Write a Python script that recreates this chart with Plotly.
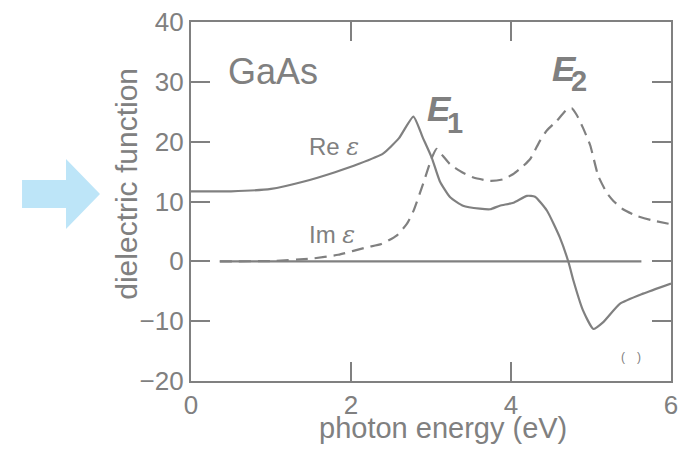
import plotly.graph_objects as go

# ---- data ----
re_x = [0.0, 0.5, 1.0, 1.4, 1.8, 2.1, 2.4, 2.6, 2.78, 2.9, 3.01, 3.11, 3.24, 3.4, 3.61, 3.74,
        3.86, 4.03, 4.2, 4.3, 4.45, 4.61, 4.72, 4.78, 4.9, 5.03, 5.15, 5.36, 5.65, 6.0]
re_eps = [11.7, 11.7, 12.1, 13.3, 14.9, 16.3, 18.0, 20.6, 24.2, 20.6, 17.3, 13.4, 10.7, 9.3, 8.8, 8.7,
          9.3, 9.8, 10.95, 10.8, 8.45, 4.0, -0.2, -3.2, -8.2, -11.3, -10.2, -7.1, -5.4, -3.7]

im_x = [0.36, 1.0, 1.5, 1.84, 2.2, 2.38, 2.57, 2.7, 2.78, 2.9, 3.01, 3.07, 3.15, 3.24, 3.4, 3.53,
        3.74, 3.9, 4.03, 4.15, 4.24, 4.36, 4.45, 4.57, 4.7, 4.76, 4.82, 4.9, 4.99, 5.09, 5.2,
        5.28, 5.4, 5.57, 5.75, 6.0]
im_eps = [0.0, 0.05, 0.45, 1.1, 2.35, 2.9, 4.3, 6.3, 8.4, 12.9, 17.3, 18.8, 17.6, 16.2, 14.8, 14.0,
          13.45, 13.7, 14.6, 15.9, 17.1, 20.1, 21.9, 23.45, 25.4, 25.6, 24.5, 22.3, 19.4, 14.3, 11.4,
          10.1, 8.7, 7.6, 6.9, 6.2]

x_ticks = [0, 2, 4, 6]
y_ticks = [-20, -10, 0, 10, 20, 30, 40]

GRAY = "#808080"
FONT = "Liberation Sans, Arial, sans-serif"

fig = go.Figure()
fig.add_trace(go.Scatter(x=im_x, y=im_eps, mode="lines",
                         line=dict(color=GRAY, width=2.2, dash="12px,7px", shape="spline", smoothing=0.5),
                         hoverinfo="skip", showlegend=False))
fig.add_trace(go.Scatter(x=re_x, y=re_eps, mode="lines",
                         line=dict(color=GRAY, width=2.2, shape="spline", smoothing=0.5),
                         hoverinfo="skip", showlegend=False))

# zero line
fig.add_shape(type="line", xref="x", yref="y", x0=0.36, x1=5.63, y0=0, y1=0,
              line=dict(color=GRAY, width=2.2), layer="below")

# light-blue arrow at left (paper coords)
fig.add_shape(type="path", xref="paper", yref="paper",
              path="M -0.352 0.5599 L -0.2604 0.5599 L -0.2604 0.6184 L -0.1896 0.5209 "
                   "L -0.2604 0.4234 L -0.2604 0.4819 L -0.352 0.4819 Z",
              fillcolor="#bde5f8", line=dict(width=0))

ann = [
    dict(x=0.44, y=31.8, text="GaAs", font=dict(size=36, color=GRAY), xanchor="left", yanchor="middle"),
    dict(x=1.45, y=19.1, text="Re <i><span style='font-family:DejaVu Serif'>ε</span></i>",
         font=dict(size=24, color=GRAY), xanchor="left", yanchor="middle"),
    dict(x=1.45, y=4.4, text="Im <i><span style='font-family:DejaVu Serif'>ε</span></i>",
         font=dict(size=24, color=GRAY), xanchor="left", yanchor="middle"),
    dict(x=2.93, y=25.6, text="<b><i>E</i></b>", font=dict(size=35, color=GRAY),
         xanchor="left", yanchor="middle"),
    dict(x=3.18, y=23.2, text="<b>1</b>", font=dict(size=29, color=GRAY),
         xanchor="left", yanchor="middle"),
    dict(x=4.49, y=32.3, text="<b><i>E</i></b>", font=dict(size=35, color=GRAY),
         xanchor="left", yanchor="middle"),
    dict(x=4.73, y=30.1, text="<b>2</b>", font=dict(size=29, color=GRAY),
         xanchor="left", yanchor="middle"),
    dict(x=5.5, y=-16.0, text="(\u2002\u2002)", font=dict(size=12, color=GRAY),
         xanchor="center", yanchor="middle"),
    # axis titles
    dict(x=0.526, y=-0.082, xref="paper", yref="paper", text="photon energy (eV)",
         font=dict(size=29, color=GRAY), xanchor="center", yanchor="top"),
    dict(x=-0.135, y=0.55, xref="paper", yref="paper", text="dielectric function", textangle=-90,
         font=dict(size=30, color=GRAY), xanchor="center", yanchor="middle"),
]
for a in ann:
    a.setdefault("xref", "x")
    a.setdefault("yref", "y")
    a.update(showarrow=False)
fig.update_layout(annotations=ann)

axis_common = dict(showgrid=False, zeroline=False, showline=True, linecolor=GRAY, linewidth=2.2,
                   mirror="ticks", ticks="inside", ticklen=19, tickwidth=2.2, tickcolor=GRAY,
                   automargin=False, ticklabeloverflow="allow",
                   tickfont=dict(size=26, color=GRAY, family=FONT))
fig.update_xaxes(range=[0, 6], tickvals=x_ticks, ticktext=[str(v) for v in x_ticks], **axis_common)
fig.update_yaxes(range=[-20, 40], tickvals=y_ticks,
                 ticktext=[("\u2212" + str(-v)) if v < 0 else str(v) for v in y_ticks], **axis_common)

fig.update_layout(width=694, height=451, margin=dict(l=191, r=23, t=22, b=70),
                  plot_bgcolor="white", paper_bgcolor="white",
                  font=dict(family=FONT, color=GRAY))
# remove the browser's default 8px body margin so the figure fills the window exactly
fig.write_html("out.html", config={"displayModeBar": False},
               post_script="document.body.style.margin='0';document.body.style.overflow='hidden';")
